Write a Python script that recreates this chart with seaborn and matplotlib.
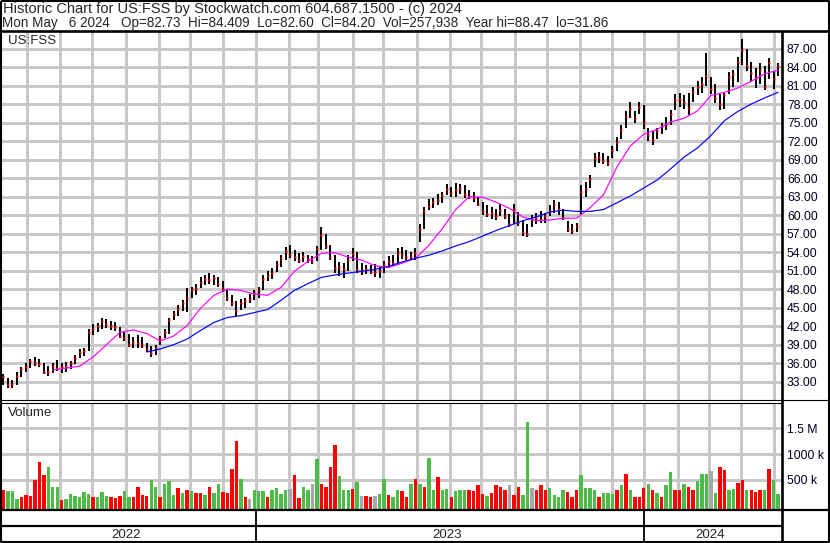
import numpy as np
import pandas as pd
import matplotlib
matplotlib.use("Agg")
import matplotlib.pyplot as plt
import seaborn as sns

# ---------------- data ----------------
start_date = "2022-05-09"
end_date = "2024-05-06"

highs = [34.3, 33.6, 33.3, 34.5, 35.4, 36.0, 36.7, 37.0, 36.6, 36.0,
         35.5, 36.0, 36.5, 36.0, 36.2, 36.3, 37.3, 38.3, 38.5, 41.5,
         42.3, 42.5, 43.4, 43.2, 42.8, 42.6, 41.8, 41.0, 40.7, 40.3,
         40.6, 40.2, 39.2, 38.8, 39.0, 40.4, 41.5, 43.4, 44.5, 45.5,
         46.3, 48.2, 48.3, 48.8, 50.0, 50.3, 50.6, 50.3, 50.0, 49.4,
         47.8, 47.0, 46.0, 46.4, 46.6, 47.2, 47.9, 48.4, 50.3, 51.0,
         51.4, 52.6, 53.5, 54.8, 55.1, 54.3, 53.8, 54.0, 53.6, 53.4,
         55.0, 58.0, 57.0, 55.2, 53.5, 52.4, 52.2, 53.5, 54.6, 54.0,
         52.2, 51.9, 51.9, 52.0, 51.8, 52.6, 53.4, 53.6, 54.6, 54.8,
         54.3, 54.1, 54.6, 58.6, 61.3, 62.6, 62.8, 63.5, 63.7, 65.0,
         64.6, 65.2, 65.0, 64.8, 64.0, 63.8, 63.0, 62.2, 61.6, 61.3,
         61.0, 61.8, 61.0, 60.2, 61.8, 60.5, 59.2, 58.6, 60.0, 60.3,
         60.6, 60.4, 61.6, 62.4, 62.2, 61.0, 59.0, 58.6, 58.8, 64.8,
         65.4, 66.5, 70.0, 70.2, 70.0, 69.6, 71.2, 72.6, 74.6, 76.8,
         78.3, 76.8, 78.4, 77.8, 74.2, 73.6, 74.2, 75.0, 75.9, 77.0,
         79.6, 79.8, 79.4, 79.8, 80.8, 81.8, 82.4, 86.3, 82.4, 81.2,
         79.6, 80.0, 83.2, 83.6, 85.6, 88.5, 87.0, 84.8, 83.8, 84.6,
         84.2, 85.4, 83.4, 84.7]

lows = [32.4, 32.0, 31.9, 32.5, 33.8, 34.6, 35.2, 35.6, 35.3, 34.3,
        33.9, 34.4, 34.8, 34.4, 34.6, 35.0, 35.8, 36.8, 37.2, 38.0,
        40.5, 41.0, 41.5, 41.7, 41.4, 41.2, 40.0, 39.6, 38.6, 38.5,
        38.4, 38.5, 37.8, 37.0, 37.4, 39.0, 40.0, 40.8, 43.0, 43.6,
        44.5, 44.3, 46.5, 47.0, 48.2, 48.6, 48.8, 48.6, 48.4, 47.5,
        46.0, 45.2, 43.6, 44.6, 44.9, 45.8, 46.2, 46.6, 47.8, 49.3,
        49.6, 50.8, 51.6, 52.8, 53.0, 52.6, 52.2, 52.4, 52.3, 52.0,
        52.5, 54.3, 54.5, 52.8, 50.6, 50.2, 49.8, 51.0, 52.5, 50.6,
        50.3, 50.4, 50.4, 50.0, 49.8, 50.6, 51.4, 51.8, 52.2, 52.9,
        52.8, 52.7, 52.8, 55.6, 57.8, 60.8, 61.2, 61.6, 62.0, 63.2,
        62.9, 63.0, 63.4, 62.8, 62.6, 62.2, 61.4, 60.0, 59.7, 59.4,
        59.2, 59.8, 59.4, 58.0, 58.6, 58.2, 56.6, 56.4, 58.0, 58.6,
        58.8, 58.7, 59.8, 60.4, 60.0, 59.2, 57.2, 57.0, 57.2, 60.2,
        63.0, 64.4, 67.8, 68.4, 68.3, 68.0, 69.2, 70.4, 72.4, 74.2,
        75.8, 75.0, 76.4, 74.0, 72.0, 71.4, 72.4, 73.2, 73.8, 74.6,
        77.0, 77.6, 77.2, 76.2, 78.4, 79.4, 79.8, 81.0, 79.6, 78.2,
        77.0, 77.2, 79.6, 80.8, 81.6, 84.3, 83.4, 81.8, 80.6, 81.2,
        80.3, 82.0, 80.4, 82.6]

closes = [33.8, 32.5, 32.6, 34.0, 35.0, 35.3, 36.3, 36.0, 35.8, 34.6,
          34.5, 35.6, 35.2, 35.4, 35.5, 36.0, 36.9, 37.8, 38.0, 41.0,
          41.6, 42.0, 42.8, 42.3, 42.0, 41.8, 40.4, 40.0, 39.0, 39.5,
          39.2, 38.9, 38.3, 37.6, 38.5, 40.0, 41.0, 43.0, 44.0, 44.8,
          45.8, 46.6, 47.8, 48.2, 49.2, 49.6, 49.5, 49.8, 48.9, 48.0,
          46.5, 45.8, 44.4, 45.7, 46.0, 46.4, 47.3, 47.8, 49.6, 50.2,
          50.6, 52.1, 53.0, 54.2, 53.6, 53.2, 52.8, 53.4, 52.9, 52.6,
          54.5, 56.7, 55.0, 53.2, 51.4, 51.6, 51.3, 52.8, 53.7, 51.2,
          51.0, 51.3, 50.8, 50.8, 51.0, 52.0, 52.6, 52.2, 53.8, 53.5,
          53.2, 53.3, 53.8, 57.8, 60.6, 61.5, 62.2, 62.4, 63.2, 64.2,
          63.6, 64.0, 64.4, 63.4, 63.0, 62.8, 61.8, 60.6, 60.2, 60.4,
          59.8, 60.9, 59.9, 58.6, 61.0, 58.8, 57.3, 57.0, 59.4, 59.6,
          59.4, 59.8, 60.6, 61.8, 61.0, 59.6, 57.8, 57.4, 58.2, 63.8,
          64.2, 65.8, 69.2, 69.4, 68.8, 68.5, 70.6, 71.8, 73.8, 76.0,
          77.2, 75.8, 77.6, 75.0, 73.0, 72.2, 73.6, 74.4, 74.8, 76.4,
          78.6, 78.8, 78.3, 77.4, 80.0, 80.8, 81.2, 82.6, 80.4, 79.0,
          78.0, 79.4, 82.4, 82.8, 84.8, 86.8, 84.2, 83.0, 82.2, 83.6,
          80.8, 84.6, 82.0, 84.2]

volume_k = [300, 290, 290, 130, 180, 200, 190, 500, 850, 600,
            760, 370, 360, 120, 130, 230, 190, 180, 260, 230,
            170, 170, 270, 190, 180, 150, 190, 280, 180, 180,
            360, 200, 190, 500, 360, 180, 420, 480, 200, 340,
            240, 310, 280, 240, 240, 200, 370, 240, 420, 260,
            250, 720, 1250, 520, 180, 140, 300, 290, 280, 180,
            310, 340, 230, 300, 330, 600, 160, 370, 300, 430,
            910, 430, 370, 750, 1180, 580, 300, 300, 330, 460,
            190, 190, 180, 190, 220, 510, 200, 180, 300, 290,
            180, 420, 520, 430, 360, 930, 300, 560, 300, 330,
            180, 290, 300, 310, 300, 280, 400, 220, 190, 240,
            400, 360, 300, 400, 210, 370, 210, 1630, 340, 300,
            400, 300, 350, 200, 180, 300, 270, 180, 300, 600,
            340, 350, 300, 170, 240, 240, 230, 300, 410, 620,
            300, 180, 180, 340, 420, 300, 240, 180, 400, 660,
            300, 310, 430, 370, 300, 480, 620, 610, 680, 240,
            760, 700, 300, 330, 450, 500, 300, 300, 270, 310,
            310, 720, 500, 220]

# g = up day, r = down day, n = unchanged
volume_dir = list("rgggrrrrrr" "gggrgggggg" "rgggrrrggr" "rrrggrgggr"
                  "grgrrgrggr" "rrrgrngggr" "ggggnrrggn" "grrrrgggrg"
                  "nrrnggrggr" "rgrgrggrgg" "rgggrrrrgr" "rrrnrrggnr"
                  "rrggggrrrg" "gggrgggrgr" "grrrgrgrgg" "rrgrrgggng"
                  "rrggrrgrrr" "grgg")

nan = np.nan
ma_fast = [nan, nan, nan, 34.9, 35.2, 35.5, 37.0, 39.0, 41.0, 41.4,
           40.8, 39.6, 40.4, 42.1, 44.9, 47.0, 48.0, 47.8, 47.2, 47.0,
           48.3, 50.9, 52.5, 53.8, 53.9, 53.2, 52.7, 51.8, 51.5, 52.2,
           53.0, 55.1, 57.8, 60.9, 63.0, 62.9, 62.1, 61.1, 59.7, 59.1,
           59.2, 59.5, 59.5, 61.2, 63.3, 67.8, 71.2, 73.1, 73.9, 75.1,
           75.7, 76.9, 79.4, 79.9, 80.6, 81.7, 82.9, 83.5]

ma_slow = [nan, nan, nan, nan, nan, nan, nan, nan, nan, nan,
           37.8, 38.3, 39.0, 39.9, 41.3, 42.6, 43.4, 43.7, 44.2, 44.7,
           46.2, 47.8, 48.9, 49.9, 50.3, 50.6, 50.9, 51.2, 51.7, 52.4,
           53.0, 53.5, 54.2, 55.0, 55.7, 56.6, 57.5, 58.3, 59.1, 59.7,
           60.5, 60.8, 60.6, 60.6, 60.9, 62.0, 63.1, 64.4, 65.7, 67.5,
           69.4, 70.9, 72.9, 75.3, 76.8, 78.0, 79.0, 79.9]

price_ticks = [33, 36, 39, 42, 45, 48, 51, 54, 57, 60, 63, 66, 69, 72, 75, 78, 81, 84, 87]
volume_ticks = [500000, 1000000, 1500000]
volume_tick_labels = ["500 k", "1000 k", "1.5 M"]

header_line1 = "Historic Chart for US:FSS by Stockwatch.com 604.687.1500 - (c) 2024"
header_line2 = ("Mon May   6 2024   Op=82.73  Hi=84.409  Lo=82.60  Cl=84.20  "
                "Vol=257,938  Year hi=88.47  lo=31.86")
symbol = "US:FSS"

# ---------------- styling / layout ----------------
sns.set_theme(style="white")
plt.rcParams['font.family'] = ['Liberation Sans', 'DejaVu Sans']

W, H = 830, 543
fig = plt.figure(figsize=(W / 100, H / 100), dpi=100)
fig.patch.set_facecolor("white")

def rect(l, t, r, b):
    return [l / W, 1 - b / H, (r - l) / W, (b - t) / H]

GRID = "#C8C8C8"
GLW = 0.75
FS_AX = 8.8
FS_TXT = 9.6
dates = pd.bdate_range(start_date, end_date)
n = len(dates)
xs = np.arange(n - 1, -1, -3)[::-1]
ma_x = xs[2::3]
month_starts = [i for i in range(1, n) if dates[i].month != dates[i - 1].month]
year_starts = [i for i in range(1, n) if dates[i].year != dates[i - 1].year]
XMAX = 779 / 1.4925

def grid_lines(ax, yvals):
    for m in month_starts:
        ax.axvline(m, color=GRID, lw=GLW, zorder=2, antialiased=False)
    for t in yvals:
        ax.axhline(t, color=GRID, lw=GLW, zorder=2, antialiased=False)

# price panel
ax_p = fig.add_axes(rect(2, 32, 781, 400))
ax_p.set_xlim(0, XMAX)
ax_p.set_ylim(30.03, 89.68)
grid_lines(ax_p, price_ticks)
ax_p.set_yticks(price_ticks)
ax_p.set_yticklabels([f"{v:.2f}" for v in price_ticks])
ax_p.yaxis.tick_right()
ax_p.tick_params(axis="y", length=0, pad=4.3, labelsize=FS_AX, labelcolor="#000020")
ax_p.set_xticks([])
for s in ax_p.spines.values():
    s.set_visible(False)
ax_p.vlines(xs, lows, highs, color="black", lw=1.4, zorder=3)
ax_p.plot(xs, closes, "s", ms=1.8, color="red", mec="none", zorder=4)
sns.lineplot(x=ma_x, y=ma_fast, ax=ax_p, color="#FF00FF", lw=0.85, legend=False, zorder=5)
sns.lineplot(x=ma_x, y=ma_slow, ax=ax_p, color="#0000FF", lw=0.85, legend=False, zorder=5)
ax_p.set_xlabel("")
ax_p.set_ylabel("")

# volume panel
VMIN, VMAX = -62000, 1992000
ax_v = fig.add_axes(rect(2, 403, 781, 509))
ax_v.set_xlim(0, XMAX)
ax_v.set_ylim(VMIN, VMAX)
grid_lines(ax_v, volume_ticks)
ax_v.set_yticks(volume_ticks)
ax_v.set_yticklabels(volume_tick_labels)
ax_v.yaxis.tick_right()
ax_v.tick_params(axis="y", length=0, pad=4.3, labelsize=FS_AX, labelcolor="#000020")
ax_v.set_xticks([])
for s in ax_v.spines.values():
    s.set_visible(False)
cmap = {"g": "#4DBB47", "r": "#FF0000", "n": "#A8A8A8"}
vols = np.array(volume_k) * 1000.0
ax_v.bar(xs, vols - VMIN, bottom=VMIN, width=2.3,
         color=[cmap[c] for c in volume_dir], lw=0, zorder=3)

# date strip
ax_d = fig.add_axes(rect(2, 510, 781, 541))
ax_d.set_xlim(0, XMAX)
ax_d.set_ylim(0, 1)
ax_d.axis("off")
for ys in year_starts:
    ax_d.axvline(ys, color="black", lw=1.3)
bounds = [0] + year_starts + [XMAX]
for i in range(len(bounds) - 1):
    yr = dates[int(bounds[i])].year
    ax_d.text((bounds[i] + bounds[i + 1]) / 2 - 1.5, 0.2, str(yr), ha="center", va="center",
              fontsize=FS_TXT)

# overlay for frame lines and header text
ax_o = fig.add_axes([0, 0, 1, 1], zorder=10)
ax_o.set_xlim(0, W)
ax_o.set_ylim(H, 0)
ax_o.axis("off")
k = dict(color="black", solid_capstyle="butt")
ax_o.plot([1, 829, 829, 1, 1], [1, 1, 542, 542, 1], lw=1.5, **k)
ax_o.plot([0, W], [31, 31], lw=1.9, **k)
ax_o.plot([781.5, 781.5], [31, H], lw=1.9, **k)
ax_o.plot([0, W], [400.4, 400.4], lw=0.8, **k)
ax_o.plot([0, 781.5], [403.2, 403.2], lw=0.8, **k)
ax_o.plot([0, W], [509.7, 509.7], lw=1.6, **k)
ax_o.plot([0, 781.5], [526.3, 526.3], lw=1.6, **k)
ax_o.text(2.5, 9.0, header_line1, fontsize=10.5, va="center", ha="left")
ax_o.text(2, 22.5, header_line2, fontsize=9.72, va="center", ha="left")
ax_o.text(8, 41.5, symbol, fontsize=FS_TXT, va="center", ha="left")
ax_o.text(8, 413, "Volume", fontsize=FS_TXT, va="center", ha="left")

fig.savefig("out.png", dpi=100, facecolor="white")
